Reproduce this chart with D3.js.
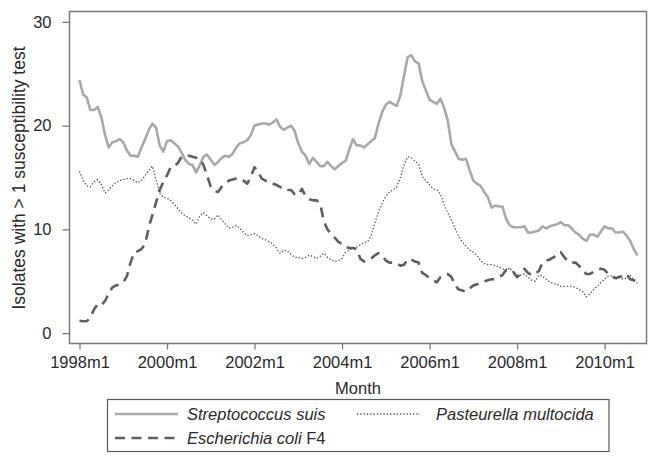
<!DOCTYPE html>
<html>
<head>
<meta charset="utf-8">
<script src="https://cdn.jsdelivr.net/npm/d3@7"></script>
<style>
  body { margin: 0; background: #fff; }
  text { font-family: "Liberation Sans", Arial, sans-serif; fill: #2a2a2a; }
</style>
</head>
<body>
<div class="chart"></div>
<script>
// monthly values, 1998m1 .. 2010m10
const tickLabels = ["1998m1", "2000m1", "2002m1", "2004m1", "2006m1", "2008m1", "2010m1"];
const tickMonths = [0, 24, 48, 72, 96, 120, 144];
const yTicks = [0, 10, 20, 30];

const strepSuis = [
  24.4, 23.0, 22.7, 21.5, 21.5, 21.8, 20.8, 19.1, 17.9, 18.4,
  18.5, 18.7, 18.4, 17.6, 17.1, 17.1, 17.0, 17.9, 18.7, 19.6,
  20.2, 19.8, 18.1, 17.5, 18.5, 18.6, 18.3, 18.0, 17.4, 16.7,
  16.3, 16.2, 15.5, 16.2, 17.0, 17.2, 16.7, 16.2, 16.5, 16.9,
  17.1, 17.0, 17.3, 17.9, 18.3, 18.4, 18.6, 19.1, 20.0, 20.1,
  20.2, 20.2, 20.1, 20.3, 20.6, 19.9, 19.6, 19.8, 20.0, 19.5,
  18.3, 17.5, 17.1, 16.3, 16.9, 16.5, 16.1, 16.1, 16.5, 16.1,
  15.8, 16.1, 16.4, 16.6, 17.7, 18.7, 18.1, 18.1, 17.9, 18.2,
  18.5, 18.8, 20.2, 21.3, 22.0, 22.3, 22.1, 21.9, 22.9, 24.8,
  26.6, 26.8, 26.2, 26.0, 24.3, 23.4, 22.5, 22.3, 22.1, 22.6,
  21.7, 20.5, 18.2, 17.5, 16.8, 16.7, 16.8, 15.7, 14.7, 14.4,
  14.2, 13.6, 13.1, 12.1, 12.3, 12.2, 12.2, 11.0, 10.4, 10.2,
  10.2, 10.2, 10.3, 9.7, 9.7, 9.8, 9.9, 10.3, 10.1, 10.3,
  10.4, 10.5, 10.7, 10.4, 10.4, 10.1, 9.7, 9.5, 9.1, 8.9,
  9.5, 9.5, 9.3, 9.8, 10.3, 10.1, 10.1, 9.7, 9.7, 9.8,
  9.4, 8.9, 8.1, 7.5
];

const ecoliF4 = [
  1.2, 1.15, 1.15, 1.5, 2.3, 2.8, 2.7, 3.1, 3.8, 4.4,
  4.6, 4.7, 4.9, 5.5, 6.8, 7.8, 7.9, 8.1, 8.6, 10.2,
  11.4, 12.6, 13.8, 14.6, 15.2, 16.0, 16.1, 16.4, 17.0, 17.1,
  17.1, 17.0, 16.9, 16.8, 16.2, 15.2, 14.1, 13.7, 13.6, 14.1,
  14.4, 14.7, 14.8, 14.9, 14.9, 14.7, 14.4, 15.1, 16.0, 15.5,
  14.9, 14.7, 14.5, 14.4, 14.3, 14.1, 13.8, 13.8, 13.8, 13.4,
  13.3, 13.9, 13.2, 12.9, 12.8, 12.8, 12.5, 10.8, 10.0, 9.6,
  9.2, 8.8, 8.6, 8.3, 8.2, 8.2, 8.1, 7.2, 6.9, 7.0,
  7.2, 7.5, 7.7, 7.5, 7.0, 6.8, 6.8, 6.7, 6.5, 6.6,
  7.1, 7.1, 6.9, 6.8, 5.8, 5.6, 5.3, 5.1, 4.9, 5.4,
  5.6, 5.7, 5.4, 4.6, 4.2, 4.1, 4.0, 4.3, 4.6, 4.7,
  4.8, 5.0, 5.1, 5.2, 5.2, 5.4, 5.6, 6.1, 6.0, 5.9,
  5.4, 5.7, 6.2, 5.8, 5.6, 5.7, 6.0, 6.8, 7.0, 7.1,
  7.3, 7.6, 7.8, 7.3, 6.9, 6.8, 6.8, 6.5, 6.0, 5.7,
  5.7, 5.9, 6.1, 6.2, 6.1, 5.7, 5.5, 5.3, 5.4, 5.5,
  5.7, 5.2, 5.1, 5.0
];

const pastMultocida = [
  15.6, 14.7, 14.2, 14.1, 14.6, 14.8, 14.3, 13.5, 13.8, 14.2,
  14.5, 14.7, 14.8, 14.9, 14.9, 14.7, 14.5, 14.7, 15.2, 15.7,
  16.1, 14.8, 13.5, 13.1, 13.0, 12.8, 12.4, 12.0, 11.6, 11.3,
  11.1, 10.9, 10.5, 11.3, 11.6, 11.3, 11.0, 11.0, 11.4, 10.9,
  10.5, 10.1, 10.2, 10.4, 10.1, 9.7, 9.4, 9.5, 9.6, 9.4,
  9.1, 9.0, 8.8, 8.6, 8.2, 7.7, 8.0, 7.9, 7.6, 7.3,
  7.3, 7.2, 7.3, 7.5, 7.4, 7.2, 7.4, 7.7, 7.3, 7.1,
  6.9, 7.0, 7.2, 7.8, 8.0, 8.2, 8.3, 8.5, 8.7, 8.8,
  9.4, 10.6, 11.7, 12.5, 13.2, 13.6, 13.8, 14.1, 15.0, 16.2,
  17.0, 16.9, 16.6, 16.3, 15.1, 14.7, 14.3, 13.9, 13.8, 13.4,
  12.4, 11.6, 10.9, 10.1, 9.3, 8.8, 8.4, 8.0, 7.8, 7.5,
  7.0, 6.7, 6.6, 6.6, 6.5, 6.4, 6.2, 6.0, 6.3, 5.8,
  5.5, 5.6, 5.7, 5.4, 5.1, 5.0, 5.6, 5.5, 5.2, 4.9,
  4.8, 4.7, 4.5, 4.5, 4.5, 4.5, 4.4, 4.2, 4.0, 3.5,
  3.8, 4.2, 4.5, 4.9, 5.2, 5.5, 5.5, 5.2, 5.4, 5.2,
  5.3, 5.6, 5.1, 4.8
];

const outerWidth = 660;
const outerHeight = 465;
const plot = {left: 69.5, right: 646.5, top: 11.5, bottom: 343.5};

const svg = d3.select(".chart")
  .append("svg")
  .attr("width", outerWidth)
  .attr("height", outerHeight);

const xScale = d3.scaleLinear()
  .domain([-2.74, 155.5])
  .range([plot.left, plot.right]);

const yScale = d3.scaleLinear()
  .domain([-1, 31])
  .range([plot.bottom, plot.top]);

// frame
svg.append("rect")
  .attr("x", plot.left)
  .attr("y", plot.top)
  .attr("width", plot.right - plot.left)
  .attr("height", plot.bottom - plot.top)
  .attr("fill", "none")
  .attr("stroke", "#7a7a7a")
  .attr("stroke-width", 1.5);

// axes
const xAxis = d3.axisBottom(xScale)
  .tickValues(tickMonths)
  .tickFormat((d, i) => tickLabels[i])
  .tickSize(6)
  .tickPadding(7);

const yAxis = d3.axisLeft(yScale)
  .tickValues(yTicks)
  .tickSize(7)
  .tickPadding(11);

const gx = svg.append("g")
  .attr("class", "axis-x-axis")
  .attr("transform", `translate(0, ${plot.bottom})`)
  .call(xAxis);

const gy = svg.append("g")
  .attr("class", "axis-y-axis")
  .attr("transform", `translate(${plot.left}, 0)`)
  .call(yAxis);

[gx, gy].forEach(g => {
  g.select(".domain").remove();
  g.selectAll(".tick line").attr("stroke", "#7a7a7a").attr("stroke-width", 1.3);
  g.selectAll(".tick text")
    .attr("fill", "#2a2a2a")
    .style("font-size", "16.5px")
    .style("font-family", "'Liberation Sans', Arial, sans-serif");
});

// axis titles
svg.append("text")
  .attr("class", "x-axis-title")
  .attr("x", 358)
  .attr("y", 393.5)
  .attr("text-anchor", "middle")
  .style("font-size", "16.5px")
  .text("Month");

svg.append("text")
  .attr("class", "y-axis-title")
  .attr("transform", "translate(25, 178) rotate(-90)")
  .attr("text-anchor", "middle")
  .style("font-size", "17.5px")
  .text("Isolates with > 1 susceptibility test");

// lines
const series = [
  {name: "Streptococcus suis", values: strepSuis, color: "#a9a9a9", width: 2.6, dash: null},
  {name: "Escherichia coli", values: ecoliF4, color: "#5f5f5f", width: 2.6, dash: "10,6.5"},
  {name: "Pasteurella multocida", values: pastMultocida, color: "#4a4a4a", width: 1.3, dash: "1.3,2"}
];

const line = d3.line()
  .x((d, i) => xScale(i))
  .y(d => yScale(d));

series.forEach(s => {
  svg.append("path")
    .datum(s.values)
    .attr("fill", "none")
    .attr("stroke", s.color)
    .attr("stroke-width", s.width)
    .attr("stroke-dasharray", s.dash)
    .attr("stroke-linejoin", "round")
    .attr("d", line);
});

// legend
const legend = svg.append("g").attr("class", "legend");

legend.append("rect")
  .attr("x", 107.5)
  .attr("y", 399.5)
  .attr("width", 501.5)
  .attr("height", 52)
  .attr("fill", "#fff")
  .attr("stroke", "#5a5a5a")
  .attr("stroke-width", 1.2);

const legendItems = [
  {s: series[0], x: 115, y: 414, label: [["Streptococcus suis", true]]},
  {s: series[2], x: 357, y: 414, label: [["Pasteurella multocida", true]]},
  {s: series[1], x: 115, y: 438, label: [["Escherichia coli", true], [" F4", false]]}
];

legendItems.forEach(it => {
  legend.append("line")
    .attr("x1", it.x)
    .attr("x2", it.x + 63)
    .attr("y1", it.y)
    .attr("y2", it.y)
    .attr("stroke", it.s.color)
    .attr("stroke-width", it.s.width)
    .attr("stroke-dasharray", it.s.dash);

  const t = legend.append("text")
    .attr("x", it.x + 72 + (it.x > 200 ? 7 : 0))
    .attr("y", it.y + 6)
    .style("font-size", "16.5px");
  it.label.forEach(([str, ital]) => {
    t.append("tspan")
      .style("font-style", ital ? "italic" : "normal")
      .text(str);
  });
});
</script>
</body>
</html>
